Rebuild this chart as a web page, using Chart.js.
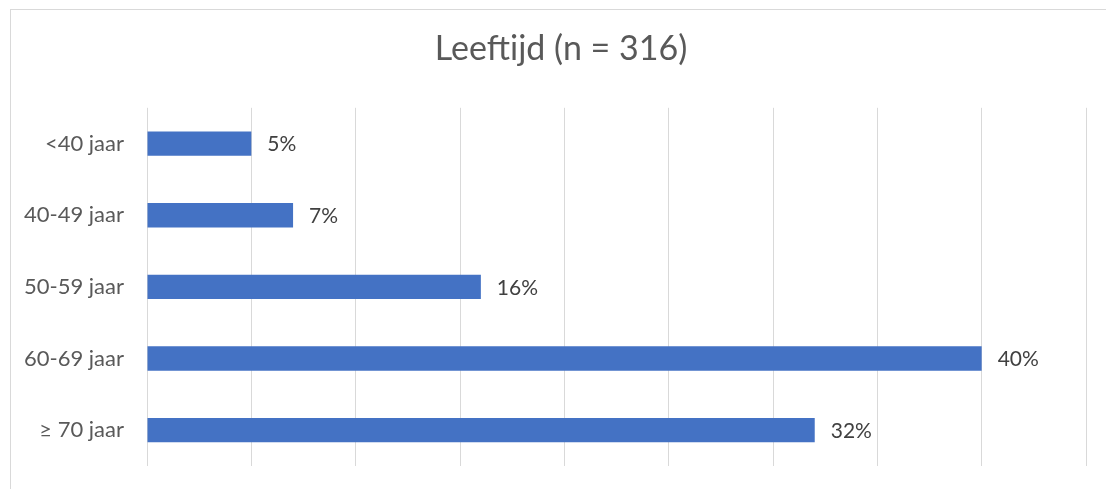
<!DOCTYPE html>
<html>
<head>
<meta charset="utf-8">
<script src="https://cdn.jsdelivr.net/npm/chart.js@4"></script>
<style>
html,body{margin:0;padding:0;background:#fff;overflow:hidden;width:1106px;height:489px;}
#frame{position:absolute;left:10px;top:9px;width:1200px;height:600px;border:1px solid #d9d9d9;box-sizing:border-box;}
#wrap{position:absolute;left:0;top:0;width:1106px;height:489px;}
</style>
</head>
<body>
<div id="frame"></div>
<div id="wrap"><canvas id="c" width="1106" height="489"></canvas></div>
<script>
const categories = ["<40 jaar", "40-49 jaar", "50-59 jaar", "60-69 jaar", "≥ 70 jaar"];
const values = [5, 7, 16, 40, 32];
const titleText = "Leeftijd (n = 316)";
const axisMax = 45;
const axisStep = 5;

const labelPlugin = {
  id: 'barLabels',
  afterLayout(chart) {
    // center the title over the chart frame (which starts at x=10, not 0)
    if (chart.titleBlock) chart.titleBlock.left += 36;
  },
  afterDatasetsDraw(chart) {
    const ctx = chart.ctx;
    const meta = chart.getDatasetMeta(0);
    ctx.save();
    ctx.font = '21px Lato, "Open Sans", sans-serif';
    ctx.fillStyle = '#404040';
    ctx.textAlign = 'left';
    ctx.textBaseline = 'middle';
    meta.data.forEach((bar, i) => {
      ctx.fillText(values[i] + '%', bar.x + 16, bar.y + 1);
    });
    ctx.restore();
  }
};

new Chart(document.getElementById('c'), {
  type: 'bar',
  data: {
    labels: categories,
    datasets: [{
      data: values,
      backgroundColor: '#4472c4',
      borderWidth: 0,
      categoryPercentage: 1,
      barPercentage: 0.34
    }]
  },
  options: {
    indexAxis: 'y',
    responsive: false,
    animation: false,
    layout: { padding: { left: 0, right: 20, top: 0, bottom: 23 } },
    plugins: {
      legend: { display: false },
      tooltip: { enabled: false },
      title: {
        display: true,
        text: titleText,
        color: '#595959',
        font: { family: 'Lato, "Open Sans", sans-serif', size: 34, weight: 'normal' },
        padding: { top: 29, bottom: 38 }
      }
    },
    scales: {
      x: {
        min: 0,
        max: axisMax,
        ticks: { display: false, stepSize: axisStep },
        grid: { color: '#d9d9d9', lineWidth: 1, drawTicks: false },
        border: { display: false },
        afterFit(scale) { scale.height = 0; }
      },
      y: {
        grid: { display: false, drawTicks: false },
        border: { display: false },
        ticks: {
          color: '#595959',
          font: { family: 'Lato, "Open Sans", sans-serif', size: 22 },
          padding: 23
        },
        afterFit(scale) {
          scale.width = 147;
          scale.paddingTop = 0;
          scale.paddingBottom = 0;
        }
      }
    }
  },
  plugins: [labelPlugin]
});
</script>
</body>
</html>
